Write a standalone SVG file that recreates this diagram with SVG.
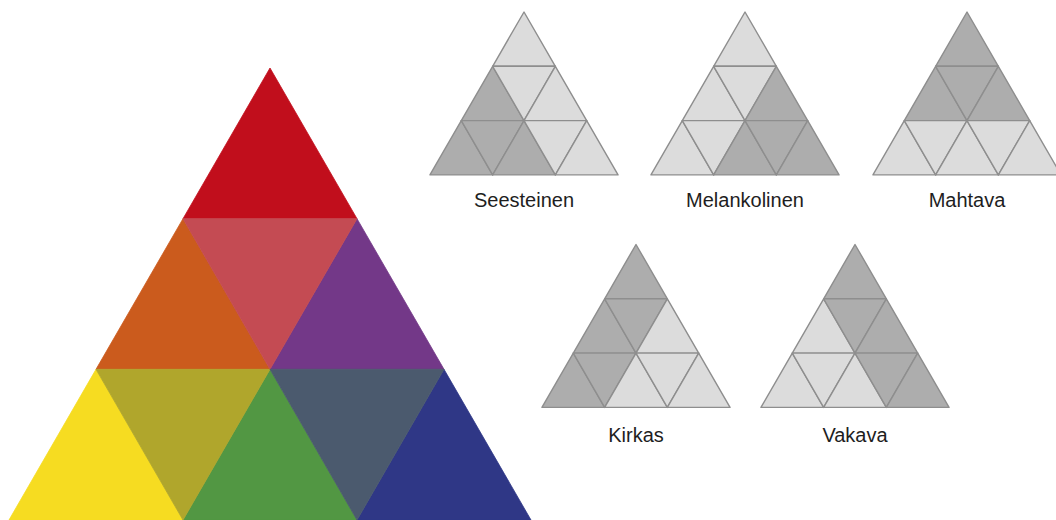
<svg xmlns="http://www.w3.org/2000/svg" xmlns:xlink="http://www.w3.org/1999/xlink" width="1056" height="520" viewBox="0 0 1056 520">
<style>
.big polygon{stroke-width:0.8;stroke-linejoin:round}
.mini{stroke:#8e8e8e;stroke-width:1.4;stroke-linejoin:round}
.d{fill:#adadad}
.l{fill:#dcdcdc}
.lbl{font-family:"Liberation Sans",Arial,sans-serif;font-size:20px;fill:#1e1e1e;text-anchor:middle}
</style>
<defs>
<polygon id="p0" points="0,0 -31.35,54.3 31.35,54.3"/>
<polygon id="p1" points="-31.35,54.3 -62.7,108.6 0,108.6"/>
<polygon id="p2" points="-31.35,54.3 31.35,54.3 0,108.6"/>
<polygon id="p3" points="31.35,54.3 0,108.6 62.7,108.6"/>
<polygon id="p4" points="-62.7,108.6 -94.05,162.9 -31.35,162.9"/>
<polygon id="p5" points="-62.7,108.6 0,108.6 -31.35,162.9"/>
<polygon id="p6" points="0,108.6 -31.35,162.9 31.35,162.9"/>
<polygon id="p7" points="0,108.6 62.7,108.6 31.35,162.9"/>
<polygon id="p8" points="62.7,108.6 31.35,162.9 94.05,162.9"/>
</defs>
<rect width="1056" height="520" fill="#ffffff"/>
<g id="color-triangle" class="big">
<polygon points="270,68 183,218.7 357,218.7" fill="#c10e1c" stroke="#c10e1c"/>
<polygon points="183,218.7 96,369.3 270,369.3" fill="#cb5b1d" stroke="#cb5b1d"/>
<polygon points="357,218.7 270,369.3 444,369.3" fill="#733888" stroke="#733888"/>
<polygon points="183,218.7 357,218.7 270,369.3" fill="#c44b53" stroke="#c44b53"/>
<polygon points="96,369.3 9,520 183,520" fill="#f6dc21" stroke="#f6dc21"/>
<polygon points="270,369.3 183,520 357,520" fill="#529743" stroke="#529743"/>
<polygon points="444,369.3 357,520 531,520" fill="#2f3786" stroke="#2f3786"/>
<polygon points="96,369.3 270,369.3 183,520" fill="#b0a62c" stroke="#b0a62c"/>
<polygon points="270,369.3 444,369.3 357,520" fill="#4b5a6e" stroke="#4b5a6e"/>
</g>
<g id="seesteinen">
<g class="mini" transform="translate(524,12)">
<use href="#p0" class="l"/><use href="#p1" class="d"/><use href="#p2" class="l"/><use href="#p3" class="l"/>
<use href="#p4" class="d"/><use href="#p5" class="d"/><use href="#p6" class="d"/><use href="#p7" class="l"/><use href="#p8" class="l"/>
</g>
<text class="lbl" x="524" y="207">Seesteinen</text>
</g>
<g id="melankolinen">
<g class="mini" transform="translate(745,12)">
<use href="#p0" class="l"/><use href="#p1" class="l"/><use href="#p2" class="l"/><use href="#p3" class="d"/>
<use href="#p4" class="l"/><use href="#p5" class="l"/><use href="#p6" class="d"/><use href="#p7" class="d"/><use href="#p8" class="d"/>
</g>
<text class="lbl" x="745" y="207">Melankolinen</text>
</g>
<g id="mahtava">
<g class="mini" transform="translate(967,12)">
<use href="#p0" class="d"/><use href="#p1" class="d"/><use href="#p2" class="d"/><use href="#p3" class="d"/>
<use href="#p4" class="l"/><use href="#p5" class="l"/><use href="#p6" class="l"/><use href="#p7" class="l"/><use href="#p8" class="l"/>
</g>
<text class="lbl" x="967" y="207">Mahtava</text>
</g>
<g id="kirkas">
<g class="mini" transform="translate(636,244.5)">
<use href="#p0" class="d"/><use href="#p1" class="d"/><use href="#p2" class="d"/><use href="#p3" class="l"/>
<use href="#p4" class="d"/><use href="#p5" class="d"/><use href="#p6" class="l"/><use href="#p7" class="l"/><use href="#p8" class="l"/>
</g>
<text class="lbl" x="636" y="442">Kirkas</text>
</g>
<g id="vakava">
<g class="mini" transform="translate(855,244.5)">
<use href="#p0" class="d"/><use href="#p1" class="l"/><use href="#p2" class="d"/><use href="#p3" class="d"/>
<use href="#p4" class="l"/><use href="#p5" class="l"/><use href="#p6" class="l"/><use href="#p7" class="d"/><use href="#p8" class="d"/>
</g>
<text class="lbl" x="855" y="442">Vakava</text>
</g>
<g id="connectors"/>
</svg>
